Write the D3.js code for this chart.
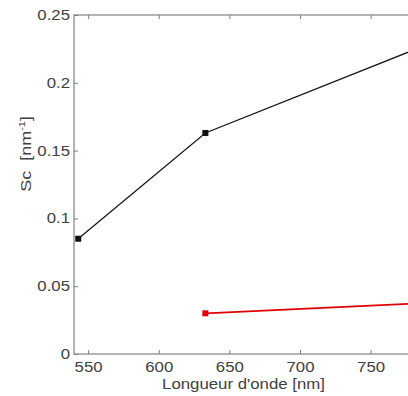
<!DOCTYPE html>
<html><head><meta charset="utf-8">
<script src="https://cdn.jsdelivr.net/npm/d3@7"></script>
<style>html,body{margin:0;padding:0;background:#fff;overflow:hidden}</style>
</head><body>
<svg id="c" width="408" height="396"></svg>
<script>
const wavelengths = [543, 633, 780];
const seriesBlack = [0.085, 0.163, 0.224];
const seriesRed = [null, 0.030, 0.0371];
const xTicks = [550, 600, 650, 700, 750];
const yTicks = [0, 0.05, 0.1, 0.15, 0.2, 0.25];
const yTickLabels = ["0", "0.05", "0.1", "0.15", "0.2", "0.25"];

(function () {
const svg = d3.select("#c");
const mL = 74, mR = 413, mT = 15, mB = 354;
const x = d3.scaleLinear().domain([540, 780]).range([mL, mR]);
const y = d3.scaleLinear().domain([0, 0.25]).range([mB, mT]);
const axisColor = "#808080", textColor = "#404040";
const font = "'Liberation Sans', Arial, sans-serif";
const sx = 1.2;

svg.append("rect").attr("x", mL).attr("y", mT).attr("width", mR - mL).attr("height", mB - mT)
  .attr("fill", "none").attr("stroke", axisColor).attr("stroke-width", 1.2);

function styleAxis(g) {
  g.select(".domain").remove();
  g.selectAll("line").attr("stroke", axisColor).attr("stroke-width", 1);
  g.selectAll("text").attr("fill", textColor).attr("font-family", font).attr("font-size", 14);
}

const gx = svg.append("g").attr("transform", `translate(0,${mB})`)
  .call(d3.axisBottom(x).tickValues(xTicks).tickSizeInner(-4).tickSizeOuter(0).tickPadding(8).tickFormat(d3.format("d")));
styleAxis(gx);
gx.selectAll("text").attr("transform", `scale(${sx},1)`);
const gt = svg.append("g").attr("transform", `translate(0,${mT})`)
  .call(d3.axisTop(x).tickValues(xTicks).tickSizeInner(-4).tickSizeOuter(0).tickFormat(""));
styleAxis(gt);

const gy = svg.append("g").attr("transform", `translate(${mL},0)`)
  .call(d3.axisLeft(y).tickValues(yTicks).tickSizeInner(-4).tickSizeOuter(0).tickPadding(4)
    .tickFormat((d, i) => yTickLabels[i]));
styleAxis(gy);
gy.selectAll("text").attr("x", -4 / sx).attr("transform", `scale(${sx},1)`);

const gr = svg.append("g").attr("transform", `translate(${mR},0)`)
  .call(d3.axisRight(y).tickValues(yTicks).tickSizeInner(-4).tickSizeOuter(0).tickFormat(""));
styleAxis(gr);

svg.append("text").attr("transform", `translate(${(mL + mR) / 2},389) scale(${sx},1)`)
  .attr("text-anchor", "middle").attr("fill", textColor).attr("font-family", font).attr("font-size", 14)
  .text("Longueur d'onde [nm]");
const yl = svg.append("text").attr("transform", `translate(31,154) rotate(-90) scale(${sx},1)`)
  .attr("text-anchor", "middle").attr("fill", textColor).attr("font-family", font).attr("font-size", 15)
  .attr("xml:space", "preserve").style("white-space", "pre");
yl.append("tspan").text("Sc  [nm");
yl.append("tspan").attr("font-size", 9).attr("dy", -6).text("-1");
yl.append("tspan").attr("dy", 6).text("]");

function drawSeries(vals, color, width) {
  const pts = wavelengths.map((w, i) => [w, vals[i]]).filter(d => d[1] != null);
  const g = svg.append("g");
  g.append("path").datum(pts)
    .attr("d", d3.line().x(d => x(d[0])).y(d => y(d[1])))
    .attr("fill", "none").attr("stroke", color).attr("stroke-width", width);
  g.selectAll("rect").data(pts).join("rect")
    .attr("x", d => x(d[0]) - 3).attr("y", d => y(d[1]) - 3)
    .attr("width", 6).attr("height", 6).attr("fill", color);
}
drawSeries(seriesBlack, "#111", 1.2);
drawSeries(seriesRed, "#e00000", 1.7);
})();
</script>
</body></html>
